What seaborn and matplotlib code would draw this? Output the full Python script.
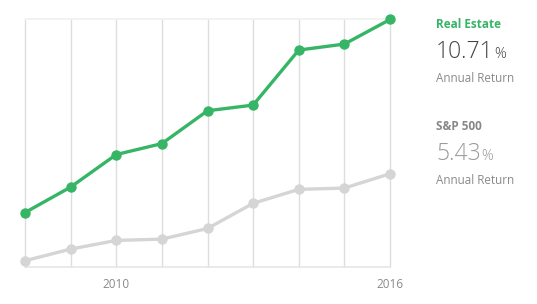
import matplotlib
matplotlib.use("Agg")
import matplotlib.pyplot as plt
import seaborn as sns
import pandas as pd

years = [2008, 2009, 2010, 2011, 2012, 2013, 2014, 2015, 2016]
real_estate = [53.7, 79.3, 112.0, 123.0, 156.0, 161.7, 217.0, 223.0, 247.7]
sp500 = [5.3, 17.0, 25.7, 27.0, 37.7, 63.0, 77.0, 78.3, 92.7]
series_names = ["Real Estate", "S&P 500"]
annual_returns = ["10.71", "5.43"]
tick_years = [2010, 2016]

df = pd.DataFrame({
    "year": years * 2,
    "value": real_estate + sp500,
    "series": [series_names[0]] * len(years) + [series_names[1]] * len(years),
})

sns.set_theme(style="white")
plt.rcParams["font.family"] = ["Open Sans", "DejaVu Sans"]

GREEN = "#36b566"
GRAY_LINE = "#d5d5d5"
GRID = "#dddddd"

fig = plt.figure(figsize=(5.37, 3.04), dpi=100)
ax = fig.add_axes([25 / 537, 1 - 267 / 304, (390 - 25) / 537, (267 - 19.5) / 304])

# vertical grid lines
for y in years:
    ax.axvline(y, color=GRID, lw=1.0, zorder=0)
ax.axhline(-1, color="#e6e6e6", lw=1.2, zorder=0)
ax.axhline(247.7, color="#f0f0f0", lw=1.2, zorder=0)

sns.lineplot(data=df, x="year", y="value", hue="series", hue_order=series_names[::-1],
             palette={series_names[0]: GREEN, series_names[1]: GRAY_LINE},
             marker="o", markersize=7.5, markeredgewidth=0, linewidth=2.4,
             legend=False, ax=ax)
for line in ax.lines:
    line.set_clip_on(False)

ax.set_xlim(years[0], years[-1])
ax.set_ylim(-1, 247.7)
ax.set_xticks(tick_years)
ax.set_xticklabels([str(t) for t in tick_years], fontsize=8.5, color="#8a8a8a")
ax.tick_params(axis="x", length=0, pad=8)
ax.set_yticks([])
ax.set_xlabel("")
ax.set_ylabel("")
for s in ax.spines.values():
    s.set_visible(False)

# right-hand annotations
x0 = 436 / 537
def fy(p):
    return 1 - p / 304

renderer = fig.canvas.get_renderer()

def big_value(txt, ybase, color):
    t = fig.text(x0, fy(ybase), txt, color=color, fontsize=16.5, fontweight="light", va="baseline")
    bb = t.get_window_extent(renderer=renderer)
    xe = bb.x1 / fig.bbox.width + 0.2 / 537
    fig.text(xe, fy(ybase), "%", color=color, fontsize=10.5, fontweight="light", va="baseline")

fig.text(x0, fy(24), series_names[0], color=GREEN, fontsize=8.5, fontweight="bold", va="center")
big_value(annual_returns[0], 58, "#444444")
fig.text(x0, fy(78), "Annual Return", color="#8a8a8a", fontsize=8.4, va="center")

fig.text(x0, fy(126), series_names[1], color="#888888", fontsize=8.5, fontweight="bold", va="center")
big_value(annual_returns[1], 160, "#9a9a9a")
fig.text(x0, fy(181), "Annual Return", color="#8a8a8a", fontsize=8.4, va="center")

fig.savefig("out.png", dpi=100)
